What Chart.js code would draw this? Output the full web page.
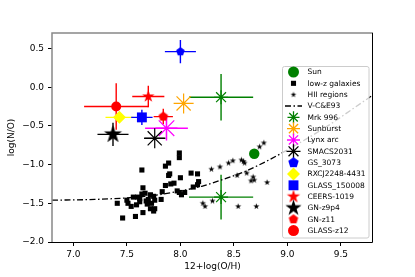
<!DOCTYPE html>
<html lang="en">
<head>
<meta charset="UTF-8">
<title>log(N/O) vs 12+log(O/H)</title>
<script src="https://cdn.jsdelivr.net/npm/chart.js"></script>
<style>
  html, body { margin: 0; padding: 0; background: #fff; }
  canvas { display: block; }
</style>
</head>
<body>
<canvas id="noChart" width="415" height="277"></canvas>
<script>
// ---- data ----
const xTicks = [7.0, 7.5, 8.0, 8.5, 9.0, 9.5];
const yTicks = [-2.0, -1.5, -1.0, -0.5, 0.0, 0.5];

const sunOH = [8.69];
const sunNO = [-0.86];

// low-z galaxies (squares)
const lowzOH = [7.99, 7.99, 7.89, 7.86, 7.64, 7.90, 7.89, 8.00, 8.10, 8.16, 7.65, 7.94, 7.91, 7.86, 8.17, 8.16,
  8.12, 7.83, 7.97, 7.99, 8.04, 8.01, 7.67, 7.64, 7.60, 7.56, 7.72, 7.75, 7.70, 7.62, 7.50, 7.51, 7.41, 7.54,
  7.59, 7.76, 7.73, 7.69, 7.82, 7.72, 7.76, 7.75, 7.65, 7.58, 7.46, 7.68, 7.62];
const lowzNO = [-0.85, -0.91, -0.98, -1.02, -1.07, -1.12, -1.14, -1.17, -1.11, -1.12, -1.30, -1.24, -1.25, -1.27, -1.22, -1.26,
  -1.29, -1.35, -1.34, -1.36, -1.36, -1.39, -1.37, -1.38, -1.42, -1.42, -1.39, -1.41, -1.45, -1.48, -1.46, -1.50, -1.50, -1.54,
  -1.52, -1.46, -1.50, -1.51, -1.45, -1.57, -1.57, -1.60, -1.62, -1.67, -1.69, -1.47, -1.44];

// HII regions (small stars)
const hiiOH = [8.21, 8.23, 8.30, 8.54, 8.71, 8.29, 8.37, 8.45, 8.49, 8.57, 8.59, 8.60, 8.62, 8.68, 8.66, 8.69, 8.81, 8.74, 8.78, 8.53];
const hiiNO = [-1.50, -1.54, -1.47, -1.54, -1.54, -1.06, -1.03, -0.98, -0.95, -0.94, -0.96, -0.98, -1.11, -1.16, -1.21, -1.20, -1.23, -0.77, -0.72, -1.14];

// V-C&E93 relation
const vceOH = [6.8, 7.2, 7.6, 7.8, 8.0, 8.2, 8.4, 8.6, 8.8, 9.0, 9.2, 9.4, 9.6, 9.8];
const vceNO = [-1.46, -1.45, -1.42, -1.39, -1.34, -1.28, -1.19, -1.09, -0.96, -0.81, -0.65, -0.48, -0.29, -0.10];

// Mrk 996 (two measurements)
const mrkOH = [8.38, 8.38];
const mrkNO = [-0.13, -1.42];
const mrkErrOH = [0.30, 0.30];
const mrkErrNO = [0.30, 0.29];

// high-z objects
const objNames = ['Sunburst', 'Lynx arc', 'SMACS2031', 'GS_3073', 'RXCJ2248-4431', 'GLASS_150008', 'CEERS-1019', 'GN-z9p4', 'GN-z11', 'GLASS-z12'];
const objOH    = [8.03, 7.87, 7.76, 8.00, 7.43, 7.64, 7.70, 7.37, 7.84, 7.40];
const objNO    = [-0.21, -0.53, -0.66, 0.46, -0.39, -0.39, -0.12, -0.61, -0.38, -0.25];
const objErrOH = [0.00, 0.20, 0.10, 0.145, 0.13, 0.10, 0.15, 0.145, 0.09, 0.30];
const objErrNO = [0.00, 0.16, 0.00, 0.15, 0.05, 0.10, 0.14, 0.15, 0.10, 0.30];

// ---- marker images for shapes Chart.js does not have ----
function makeMarker(kind, size, color) {
  const c = document.createElement('canvas');
  c.width = c.height = Math.ceil(size) + 4;
  const g = c.getContext('2d');
  const cx = c.width / 2, cy = c.height / 2, R = size / 2;
  g.fillStyle = color;
  g.beginPath();
  if (kind === 'star') {
    for (let i = 0; i < 10; i++) {
      const r = i % 2 ? R * 0.382 : R;
      const a = -Math.PI / 2 + i * Math.PI / 5;
      g.lineTo(cx + r * Math.cos(a), cy + r * Math.sin(a));
    }
  } else {
    for (let i = 0; i < 5; i++) {
      const a = -Math.PI / 2 + i * 2 * Math.PI / 5;
      g.lineTo(cx + R * Math.cos(a), cy + R * Math.sin(a));
    }
  }
  g.closePath();
  g.fill();
  return c;
}

// style of each object: colour, point style, radius (plot) and legend radius
const styles = {
  'Sun':           { color: '#008000', style: 'circle', r: 5.2, lr: 5.5 },
  'low-z galaxies':{ color: '#000000', style: 'rect', r: 3.6, lr: 3.6 },
  'HII regions':   { color: '#000000', style: makeMarker('star', 6.5, '#000'), lstyle: makeMarker('star', 6, '#000') },
  'Mrk 996':       { color: '#008000', style: 'star', r: 7, lr: 6 },
  'Sunburst':      { color: '#FFA500', style: 'star', r: 10, lr: 6.5 },
  'Lynx arc':      { color: '#FF00FF', style: 'star', r: 11, lr: 6.5 },
  'SMACS2031':     { color: '#000000', style: 'star', r: 10, lr: 7 },
  'GS_3073':       { color: '#0000FF', style: makeMarker('pent', 9, '#0000FF'), lstyle: makeMarker('pent', 11, '#0000FF') },
  'RXCJ2248-4431': { color: '#FFFF00', style: 'rectRot', r: 6.5, lr: 6.5 },
  'GLASS_150008':  { color: '#0000FF', style: 'rect', r: 7, lr: 7 },
  'CEERS-1019':    { color: '#FF0000', style: makeMarker('star', 13, '#FF0000'), lstyle: makeMarker('star', 14, '#FF0000') },
  'GN-z9p4':       { color: '#000000', style: makeMarker('star', 19, '#000'), lstyle: makeMarker('star', 17, '#000') },
  'GN-z11':        { color: '#FF0000', style: makeMarker('pent', 10, '#FF0000'), lstyle: makeMarker('pent', 10, '#FF0000') },
  'GLASS-z12':     { color: '#FF0000', style: 'circle', r: 5, lr: 5.5 }
};

const toPts = (xs, ys) => xs.map((v, i) => ({ x: v, y: ys[i] }));

function markerSet(label, pts, errX, errY) {
  const s = styles[label];
  return {
    label: label,
    data: pts,
    pointStyle: s.style,
    pointRadius: s.r || 5,
    pointHoverRadius: s.r || 5,
    backgroundColor: s.color,
    borderColor: s.color,
    pointBorderWidth: s.style === 'star' ? 1.2 : 0,
    showLine: false,
    errX: errX,
    errY: errY
  };
}

const datasets = [];
datasets.push(markerSet('Sun', toPts(sunOH, sunNO)));
datasets.push(markerSet('low-z galaxies', toPts(lowzOH, lowzNO)));
datasets.push(markerSet('HII regions', toPts(hiiOH, hiiNO)));
datasets.push({
  label: 'V-C&E93',
  type: 'line',
  data: toPts(vceOH, vceNO),
  borderColor: '#000',
  borderWidth: 1.3,
  borderDash: [6, 2.5, 1.5, 2.5],
  pointRadius: 0,
  fill: false,
  tension: 0.4,
  cubicInterpolationMode: 'monotone'
});
datasets.push(markerSet('Mrk 996', toPts(mrkOH, mrkNO), mrkErrOH, mrkErrNO));
objNames.forEach((n, i) => {
  datasets.push(markerSet(n, [{ x: objOH[i], y: objNO[i] }], [objErrOH[i]], [objErrNO[i]]));
});
// later datasets on top, like the plotting order
datasets.forEach((d, i) => { d.order = datasets.length - i; });

const tickFont = { family: 'DejaVu Sans', size: 9 };
const fmt = v => (v < 0 ? '\u2212' : '') + Math.abs(v).toFixed(1);

// error bars drawn behind the markers
const errorBars = {
  id: 'errorBars',
  beforeDatasetsDraw(chart) {
    const { ctx, scales: { x, y } } = chart;
    ctx.save();
    ctx.lineWidth = 1.4;
    chart.data.datasets.forEach(ds => {
      if (!ds.errX) return;
      ctx.strokeStyle = ds.borderColor;
      ds.data.forEach((p, i) => {
        const ex = ds.errX[i], ey = ds.errY[i];
        const px = x.getPixelForValue(p.x), py = y.getPixelForValue(p.y);
        ctx.beginPath();
        if (ex) { ctx.moveTo(x.getPixelForValue(p.x - ex), py); ctx.lineTo(x.getPixelForValue(p.x + ex), py); }
        if (ey) { ctx.moveTo(px, y.getPixelForValue(p.y - ey)); ctx.lineTo(px, y.getPixelForValue(p.y + ey)); }
        ctx.stroke();
      });
    });
    ctx.restore();
  }
};

// axes frame
const frame = {
  id: 'frame',
  afterDatasetsDraw(chart) {
    const { ctx, chartArea: a } = chart;
    ctx.save();
    ctx.strokeStyle = '#888';
    ctx.lineWidth = 1.5;
    ctx.beginPath();
    ctx.moveTo(a.left, a.bottom); ctx.lineTo(a.left, a.top); ctx.lineTo(a.right, a.top);
    ctx.stroke();
    ctx.strokeStyle = '#000';
    ctx.lineWidth = 1;
    ctx.beginPath();
    ctx.moveTo(a.right - 0.5, a.top); ctx.lineTo(a.right - 0.5, a.bottom + 0.5); ctx.lineTo(a.left, a.bottom + 0.5);
    ctx.stroke();
    ctx.restore();
  }
};

// legend box inside the axes
const boxLegend = {
  id: 'boxLegend',
  afterDraw(chart) {
    const ctx = chart.ctx;
    const rows = ['Sun', 'low-z galaxies', 'HII regions', 'V-C&E93', 'Mrk 996'].concat(objNames);
    ctx.save();
    ctx.fillStyle = 'rgba(255,255,255,0.8)';
    ctx.strokeStyle = '#cccccc';
    ctx.lineWidth = 1;
    ctx.beginPath();
    ctx.roundRect(282.5, 66.5, 86.5, 171.5, 2);
    ctx.fill();
    ctx.stroke();
    rows.forEach((name, i) => {
      const yy = 72 + i * 11.33;
      const mx = 293.5;
      if (name === 'V-C&E93') {
        ctx.strokeStyle = '#000';
        ctx.lineWidth = 1.3;
        ctx.setLineDash([6, 2.5, 1.5, 2.5]);
        ctx.beginPath();
        ctx.moveTo(285, yy); ctx.lineTo(302, yy);
        ctx.stroke();
        ctx.setLineDash([]);
      } else {
        const s = styles[name];
        ctx.fillStyle = s.color;
        ctx.strokeStyle = s.color;
        Chart.helpers.drawPoint(ctx, {
          pointStyle: s.lstyle || s.style,
          radius: s.lr || 5,
          rotation: 0,
          borderWidth: s.style === 'star' ? 1.2 : 0
        }, mx, yy);
      }
      ctx.fillStyle = '#000';
      ctx.font = '7.5px "DejaVu Sans"';
      ctx.textBaseline = 'middle';
      ctx.textAlign = 'left';
      ctx.fillText(name, 307.5, yy + 0.5);
    });
    ctx.restore();
  }
};

new Chart(document.getElementById('noChart'), {
  type: 'scatter',
  data: { datasets: datasets },
  plugins: [errorBars, frame, boxLegend],
  options: {
    responsive: false,
    animation: false,
    layout: { padding: { top: 33, right: 42, left: 0, bottom: 0 } },
    plugins: { legend: { display: false }, tooltip: { enabled: false } },
    scales: {
      x: {
        type: 'linear',
        min: 6.8,
        max: 9.8,
        afterBuildTicks: s => { s.ticks = xTicks.map(v => ({ value: v })); },
        afterFit: s => { s.height = 35; },
        ticks: { callback: v => fmt(v), color: '#000', font: tickFont, padding: 3, maxRotation: 0, autoSkip: false },
        grid: { drawOnChartArea: false, tickLength: 4, color: '#000' },
        border: { display: false },
        title: { display: true, text: '12+log(O/H)', color: '#000', font: tickFont, padding: { top: 0, bottom: 5 } }
      },
      y: {
        type: 'linear',
        min: -2.0,
        max: 0.7,
        afterBuildTicks: s => { s.ticks = yTicks.map(v => ({ value: v })); },
        afterFit: s => { s.width = 52; },
        ticks: { callback: v => fmt(v), color: '#000', font: tickFont, padding: 4, autoSkip: false },
        grid: { drawOnChartArea: false, tickLength: 4, color: '#000' },
        border: { display: false },
        title: { display: true, text: 'log(N/O)', color: '#000', font: tickFont, padding: { top: 6.5, bottom: 0 } }
      }
    }
  }
});
</script>
</body>
</html>
